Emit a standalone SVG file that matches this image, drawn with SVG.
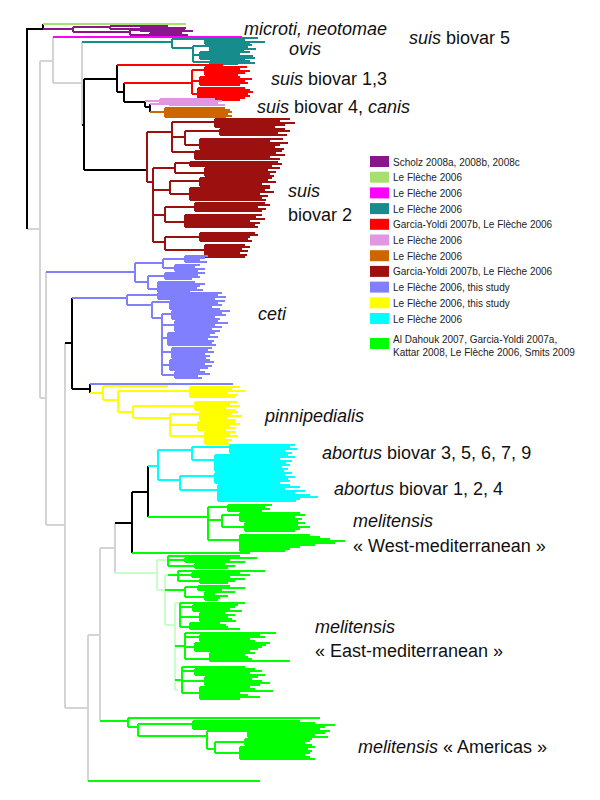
<svg xmlns="http://www.w3.org/2000/svg" width="600" height="800" viewBox="0 0 600 800">
<style>
.t{fill:none;stroke-width:1.5;stroke-linecap:butt;shape-rendering:crispEdges}
.bk{stroke:#000000;stroke-width:2}
.gy{stroke:#d4d4d4;stroke-width:2}
.lg{stroke:#a8e070}
.pu{stroke:#8b168b}
.mg{stroke:#ff00ff}
.te{stroke:#168c8c}
.rd{stroke:#ff0000}
.pk{stroke:#e096e0}
.or{stroke:#cc6600}
.br{stroke:#9c1010}
.bl{stroke:#8080ff}
.ye{stroke:#ffff00}
.cy{stroke:#00ffff}
.gr{stroke:#00ff00}
.pg{stroke:#c8ffc8}
.lbl{font-family:"Liberation Sans",Arial,sans-serif;font-size:18px;fill:#111}
.it{font-style:italic}
.leg{font-family:"Liberation Sans",Arial,sans-serif;font-size:10px;fill:#222}
</style>
<g id="connectors">
<path class="t gy" d="M27,229H40 M40,61V398 M40,61H53 M53,37V83 M53,83H82 M82,42V125 M40,398H46 M46,272V525 M46,525H65 M65,343V708 M65,708H88 M88,635V781 M88,635H100 M100,548V721 M100,548H115 M115,523V573"/>
<path class="t bk" d="M43,29H27V229 M43,24V29 M82,125H84 M84,79V170 M84,79H117 M117,65V92 M117,92H124 M124,83V102 M124,102H145 M145,101V107 M145,107H150 M150,104V112 M84,170H147 M65,343H72 M72,298V389 M72,389H90 M90,384V393 M115,523H132 M132,492V553 M132,492H148 M148,466V517"/>
</g>
<g id="node-microti">
<path class="t lg" d="M43,24H186"/>
<path class="t pu" d="M43,29H73 M73,27V32 M73,27H110 M110,26V29 M110,26H168 M110,29H140 M140,28V31 M140,28H186 M140,31H172 M73,32H130 M130,30V35 M130,30H160 M160,29V33 M160,29H185 M160,31H193 M160,33H178 M130,35H150 M150,33V35 M150,33H182 M150,35H188"/>
<path class="t mg" d="M53,37H242"/>
</g>
<g id="node-ovis">
<path class="t te" d="M82,42H172 M172,39V48 M172,39H205 M205,38V44 M205,38H258 M205,40H245 M205,42H265 M205,44H250 M172,48H193 M193,46V62 M193,46H210 M210,45V51 M210,45H252 M210,47H248 M210,49H256 M210,51H244 M193,55H200 M200,52V59 M200,52H250 M200,54H240 M200,56H253 M200,58H255 M200,59H245 M193,62H210 M210,61V64 M210,61H250 M210,63H255 M210,64H238"/>
</g>
<g id="node-suis13">
<path class="t rd" d="M117,65H223 M124,83H192 M192,70V94 M192,70H205 M205,67V75 M205,67H247 M205,69H240 M205,71H250 M205,73H245 M205,75H238 M192,81H200 M200,77V85 M200,77H240 M200,79H252 M200,81H245 M200,83H248 M200,85H240 M192,94H198 M198,88V100 M198,88H245 M198,90H250 M198,92H253 M198,94H248 M198,96H250 M198,98H245 M198,100H240"/>
</g>
<g id="node-suis4">
<path class="t pk" d="M145,101H160 M160,99V103 M160,99H215 M160,101H222 M160,103H210 M150,104H170 M170,103V106 M170,103H218 M170,105H225"/>
<path class="t or" d="M150,112H165 M165,108V117 M165,108H225 M165,110H230 M165,112H232 M165,114H228 M165,116H232 M165,117H226"/>
</g>
<g id="node-suis2">
<path class="t br" d="M147,132V182 M147,132H172 M172,122V152 M172,122H215 M215,119V127 M215,119H290 M215,121H280 M215,123H295 M215,125H285 M215,127H275 M172,137H185 M185,131V145 M185,131H220 M220,129V135 M220,129H285 M220,131H290 M220,133H278 M220,135H287 M185,145H200 M200,139V149 M200,139H283 M200,141H270 M200,143H288 M200,145H280 M200,147H275 M200,149H284 M172,152H195 M195,151V159 M195,151H282 M195,153H276 M195,155H285 M195,157H270 M195,159H280 M147,182H153 M153,168V242 M153,168H175 M175,163V173 M175,163H190 M190,162V166 M190,162H278 M190,164H282 M190,166H272 M175,173H205 M205,168V176 M205,168H280 M205,170H268 M205,172H276 M205,174H270 M205,176H274 M153,190H170 M170,181V194 M170,181H200 M200,178V186 M200,178H272 M200,180H268 M200,182H276 M200,184H262 M200,186H270 M170,194H190 M190,188V200 M190,188H270 M190,190H265 M190,192H274 M190,194H260 M190,196H268 M190,198H262 M190,200H266 M153,215H165 M165,207V222 M165,207H195 M195,203V211 M195,203H265 M195,205H270 M195,207H258 M195,209H266 M195,211H262 M165,222H185 M185,215V227 M185,215H262 M185,217H256 M185,219H265 M185,221H250 M185,223H260 M185,225H255 M185,227H258 M153,242H165 M165,237V250 M165,237H200 M200,233V241 M200,233H255 M200,235H258 M200,237H250 M200,239H248 M200,241H252 M165,250H205 M205,245V257 M205,245H245 M205,247H250 M205,249H242 M205,251H248 M205,253H240 M205,255H247 M205,257H245"/>
</g>
<g id="node-ceti">
<path class="t bl" d="M46,272H135 M135,263V282 M135,263H163 M163,259V268 M163,259H185 M185,256V262 M185,256H208 M185,258H205 M185,260H200 M185,262H207 M163,268H175 M175,265V271 M175,265H200 M175,267H195 M175,269H205 M175,271H198 M135,282H148 M148,276V289 M148,276H165 M165,273V279 M165,273H205 M165,275H198 M165,277H200 M165,279H192 M148,289H158 M158,282V292 M158,282H195 M158,284H205 M158,286H200 M158,288H197 M158,290H203 M158,292H190"/>
<path class="t bl" d="M72,298H127 M127,295V305 M127,295H158 M158,293V299 M158,293H222 M158,295H218 M158,297H226 M158,299H215 M127,305H152 M152,302V318 M152,302H170 M170,301V309 M170,301H225 M170,303H218 M170,305H222 M170,307H212 M170,309H220 M152,318H162 M162,314V375 M162,314H172 M172,311V319 M172,311H230 M172,313H222 M172,315H226 M172,317H215 M172,319H220 M162,325H175 M175,321V331 M175,321H218 M175,323H228 M175,325H215 M175,327H222 M175,329H212 M175,331H220 M162,338H168 M168,333V345 M168,333H215 M168,335H210 M168,337H218 M168,339H208 M168,341H214 M168,343H212 M168,345H216 M162,352H172 M172,348V358 M172,348H212 M172,350H208 M172,352H214 M172,354H205 M172,356H210 M172,358H206 M162,365H170 M170,360V370 M170,360H210 M170,362H214 M170,364H205 M170,366H212 M170,368H208 M170,370H200 M162,375H175 M175,372V378 M175,372H205 M175,374H210 M175,376H198 M175,378H202 M90,384H233"/>
</g>
<g id="node-pinnipedialis">
<path class="t ye" d="M90,393H103 M103,386V400 M103,386H168 M103,400H118 M118,391V412 M118,391H190 M190,387V397 M190,387H240 M190,389H232 M190,391H245 M190,393H228 M190,395H238 M190,397H235 M118,412H133 M133,406V418 M133,406H195 M195,402V410 M195,402H237 M195,404H230 M195,406H240 M195,408H226 M195,410H235 M133,418H170 M170,414V436 M170,414H200 M200,412V420 M200,412H238 M200,414H232 M200,416H242 M200,418H228 M200,420H235 M170,425H198 M198,422V430 M198,422H235 M198,424H240 M198,426H230 M198,428H236 M198,430H226 M170,436H205 M205,432V444 M205,432H236 M205,434H230 M205,436H238 M205,438H225 M205,440H232 M205,442H228 M205,444H230"/>
</g>
<g id="node-abortus">
<path class="t cy" d="M148,466H158 M158,450V480 M158,450H192 M192,447V460 M192,447H230 M230,445V453 M230,445H295 M230,447H290 M230,449H297 M230,451H285 M230,453H292 M192,460H215 M215,455V471 M215,455H288 M215,457H295 M215,459H280 M215,461H292 M215,463H286 M215,465H290 M215,467H282 M215,469H288 M215,471H284 M158,480H180 M180,476V490 M180,476H215 M215,473V483 M215,473H292 M215,475H285 M215,477H295 M215,479H288 M215,481H290 M215,483H280 M180,490H218 M218,485V501 M218,485H290 M218,487H300 M218,489H285 M218,491H305 M218,493H295 M218,495H310 M218,497H318 M218,499H300 M218,501H296"/>
</g>
<g id="node-west-med">
<path class="t gr" d="M148,517H208 M208,507V540 M208,507H228 M228,505V511 M228,505H272 M228,507H265 M228,509H270 M228,511H262 M208,520H222 M222,515V527 M222,515H240 M240,513V521 M240,513H300 M240,515H305 M240,517H295 M240,519H302 M240,521H298 M222,527H245 M245,523V531 M245,523H305 M245,525H298 M245,527H310 M245,529H300 M245,531H295 M208,540H240 M240,535V551 M240,535H310 M240,537H320 M240,539H330 M240,541H345 M240,543H335 M240,545H315 M240,547H300 M240,549H290 M240,551H285"/>
</g>
<g id="node-east-med">
<path class="t pg" d="M115,573H157 M157,560V590 M157,560H168 M157,590H165 M165,575V625 M165,575H168 M165,625H175 M175,603V690 M175,603H180 M175,690H178"/>
<path class="t gr" d="M132,553H250 M168,556V566 M168,556H240 M168,560H185 M185,558V562 M185,558H257 M185,560H230 M185,562H245 M168,566H195 M195,564V568 M195,564H225 M195,566H235 M195,568H228 M168,575H178 M178,571V581 M178,571H265 M178,575H192 M192,573V577 M192,573H240 M192,575H250 M192,577H230 M178,581H200 M200,579V583 M200,579H245 M200,581H235 M200,583H228 M165,590H185 M185,587V597 M185,587H198 M198,586V590 M198,586H230 M198,588H245 M198,590H222 M185,597H205 M205,592V600 M205,592H235 M205,594H215 M205,596H228 M205,598H220 M205,600H218 M180,603V627 M180,603H245 M180,607H193 M193,605V611 M193,605H238 M193,607H235 M193,609H230 M193,611H242 M180,617H200 M200,613V621 M200,613H225 M200,615H235 M200,617H228 M200,619H232 M200,621H236 M180,627H190 M190,623V629 M190,623H220 M190,625H226 M190,627H228 M190,629H240 M175,646H185 M185,633V659 M185,633H276 M185,637H200 M200,635V641 M200,635H260 M200,637H265 M200,639H250 M200,641H255 M185,647H195 M195,643V651 M195,643H270 M195,645H266 M195,647H262 M195,649H258 M195,651H250 M185,659H210 M210,653V661 M210,653H255 M210,655H245 M210,657H248 M210,659H252 M210,661H290 M175,680H182 M182,667V693 M182,667H245 M182,671H195 M195,669V675 M195,669H255 M195,671H262 M195,673H250 M195,675H265 M182,681H205 M205,677V685 M205,677H258 M205,679H252 M205,681H262 M205,683H270 M205,685H260 M182,693H200 M200,687V699 M200,687H250 M200,689H255 M200,691H273 M200,693H240 M200,695H248 M200,697H260 M200,699H240"/>
</g>
<g id="node-americas">
<path class="t gr" d="M100,721H128 M128,718V727 M128,718H320 M128,727H138 M138,724V736 M138,724H193 M193,721V729 M193,721H300 M193,723H315 M193,725H335 M193,727H325 M193,729H310 M138,736H207 M207,731V749 M207,731H248 M248,729V737 M248,729H320 M248,731H330 M248,733H325 M248,735H315 M248,737H328 M207,749H215 M215,742V753 M215,742H245 M245,739V745 M245,739H312 M245,741H310 M245,743H305 M245,745H312 M215,753H240 M240,747V759 M240,747H315 M240,749H308 M240,751H312 M240,753H310 M240,755H305 M240,757H310 M240,759H315 M88,781H260"/>
</g>
<g id="labels">
<text class="lbl it" x="244" y="35">microti, neotomae</text>
<text class="lbl" x="409" y="44"><tspan class="it">suis</tspan> biovar 5</text>
<text class="lbl it" x="289" y="55">ovis</text>
<text class="lbl" x="271" y="85"><tspan class="it">suis</tspan> biovar 1,3</text>
<text class="lbl" x="257" y="113"><tspan class="it">suis</tspan> biovar 4, <tspan class="it">canis</tspan></text>
<text class="lbl it" x="288" y="197">suis</text>
<text class="lbl" x="288" y="221">biovar 2</text>
<text class="lbl it" x="258" y="320">ceti</text>
<text class="lbl it" x="265" y="422">pinnipedialis</text>
<text class="lbl" x="322" y="459"><tspan class="it">abortus</tspan> biovar 3, 5, 6, 7, 9</text>
<text class="lbl" x="334" y="495"><tspan class="it">abortus</tspan> biovar 1, 2, 4</text>
<text class="lbl it" x="353" y="527">melitensis</text>
<text class="lbl" x="353" y="552">« West-mediterranean »</text>
<text class="lbl it" x="315" y="633">melitensis</text>
<text class="lbl" x="315" y="657">« East-mediterranean »</text>
<text class="lbl" x="358" y="753"><tspan class="it">melitensis</tspan> « Americas »</text>
</g>
<g id="legend">
<rect x="370" y="156" width="19" height="11" fill="#8b168b"/>
<text class="leg" x="393" y="165.5">Scholz 2008a, 2008b, 2008c</text>
<rect x="370" y="171.7" width="19" height="11" fill="#a8e070"/>
<text class="leg" x="393" y="181.2">Le Flèche 2006</text>
<rect x="370" y="187.4" width="19" height="11" fill="#ff00ff"/>
<text class="leg" x="393" y="196.9">Le Flèche 2006</text>
<rect x="370" y="203.1" width="19" height="11" fill="#168c8c"/>
<text class="leg" x="393" y="212.6">Le Flèche 2006</text>
<rect x="370" y="218.8" width="19" height="11" fill="#ff0000"/>
<text class="leg" x="393" y="228.3">Garcia-Yoldi 2007b, Le Flèche 2006</text>
<rect x="370" y="234.5" width="19" height="11" fill="#e096e0"/>
<text class="leg" x="393" y="244">Le Flèche 2006</text>
<rect x="370" y="250.2" width="19" height="11" fill="#cc6600"/>
<text class="leg" x="393" y="259.7">Le Flèche 2006</text>
<rect x="370" y="265.9" width="19" height="11" fill="#9c1010"/>
<text class="leg" x="393" y="275.4">Garcia-Yoldi 2007b, Le Flèche 2006</text>
<rect x="370" y="281.6" width="19" height="11" fill="#8080ff"/>
<text class="leg" x="393" y="291.1">Le Flèche 2006, this study</text>
<rect x="370" y="297.3" width="19" height="11" fill="#ffff00"/>
<text class="leg" x="393" y="306.8">Le Flèche 2006, this study</text>
<rect x="370" y="313" width="19" height="11" fill="#00ffff"/>
<text class="leg" x="393" y="322.5">Le Flèche 2006</text>
<rect x="370" y="338" width="19" height="11" fill="#00ff00"/>
<text class="leg" x="393" y="343">Al Dahouk 2007, Garcia-Yoldi 2007a,</text>
<text class="leg" x="393" y="356">Kattar 2008, Le Flèche 2006, Smits 2009</text>
</g>
</svg>
